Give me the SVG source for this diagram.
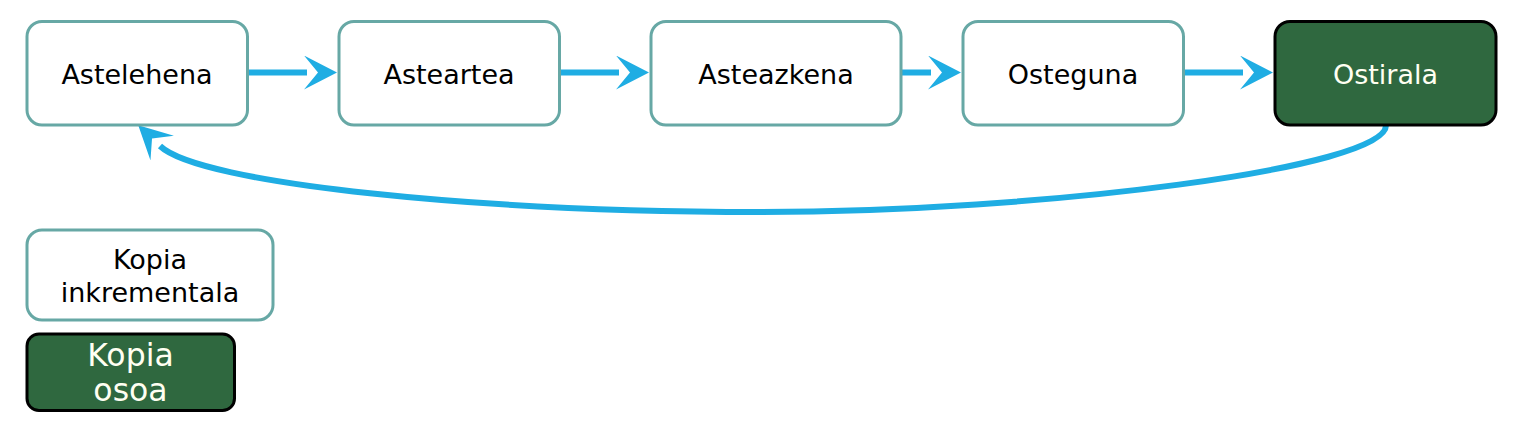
<svg xmlns="http://www.w3.org/2000/svg" width="1524" height="440" viewBox="0 0 1524 440">
<style>
.lite{fill:#ffffff;stroke:#67a8a5;stroke-width:3}
.dark{fill:#2f683f;stroke:#000000;stroke-width:3}
.t{font-family:"DejaVu Sans",sans-serif;font-size:27px;text-anchor:middle;fill:#000000}
.tw{font-family:"DejaVu Sans",sans-serif;font-size:27px;text-anchor:middle;fill:#fffff2}
.tb{font-family:"DejaVu Sans",sans-serif;font-size:31.5px;text-anchor:middle;fill:#fffff2}
.edge{fill:none;stroke:#1fade3;stroke-width:6}
</style>
<defs>
<marker id="ah" markerUnits="userSpaceOnUse" markerWidth="40" markerHeight="40" viewBox="0 0 40 40" refX="3" refY="17" orient="auto">
<path d="M0,0 L33,17 L0,34 L14,17 Z" fill="#1fade3"/>
</marker>
</defs>
<rect width="1524" height="440" fill="#ffffff"/>
<g id="connectors">
<path class="edge" d="M248,72.5 L307,72.5" marker-end="url(#ah)"/>
<path class="edge" d="M560,72.5 L619,72.5" marker-end="url(#ah)"/>
<path class="edge" d="M902,72.5 L931,72.5" marker-end="url(#ah)"/>
<path class="edge" d="M1184,72.5 L1243,72.5" marker-end="url(#ah)"/>
<path class="edge" d="M1386,125 C1388,168 1040,212 760,212 C480,212 200,184 160,146" marker-end="url(#ah)"/>
</g>
<g id="n1"><rect class="lite" x="27" y="21.5" width="220.5" height="103.5" rx="15"/><text class="t" x="137" y="84.3">Astelehena</text></g>
<g id="n2"><rect class="lite" x="339" y="21.5" width="220.5" height="103.5" rx="15"/><text class="t" x="449" y="84.3">Asteartea</text></g>
<g id="n3"><rect class="lite" x="651" y="21.5" width="250" height="103.5" rx="15"/><text class="t" x="776" y="84.3">Asteazkena</text></g>
<g id="n4"><rect class="lite" x="963" y="21.5" width="220.5" height="103.5" rx="15"/><text class="t" x="1073" y="84.3">Osteguna</text></g>
<g id="n5"><rect class="dark" x="1275" y="21.5" width="221" height="103.5" rx="15"/><text class="tw" x="1385.5" y="84.3">Ostirala</text></g>
<g id="legend-inc"><rect class="lite" x="27" y="230" width="246" height="90" rx="15"/><text class="t" x="150" y="269">Kopia</text><text class="t" x="150" y="302.4">inkrementala</text></g>
<g id="legend-full"><rect class="dark" x="27" y="334" width="207.5" height="76.5" rx="12"/><text class="tb" x="130.5" y="365.5">Kopia</text><text class="tb" x="130.5" y="400.5">osoa</text></g>
</svg>
